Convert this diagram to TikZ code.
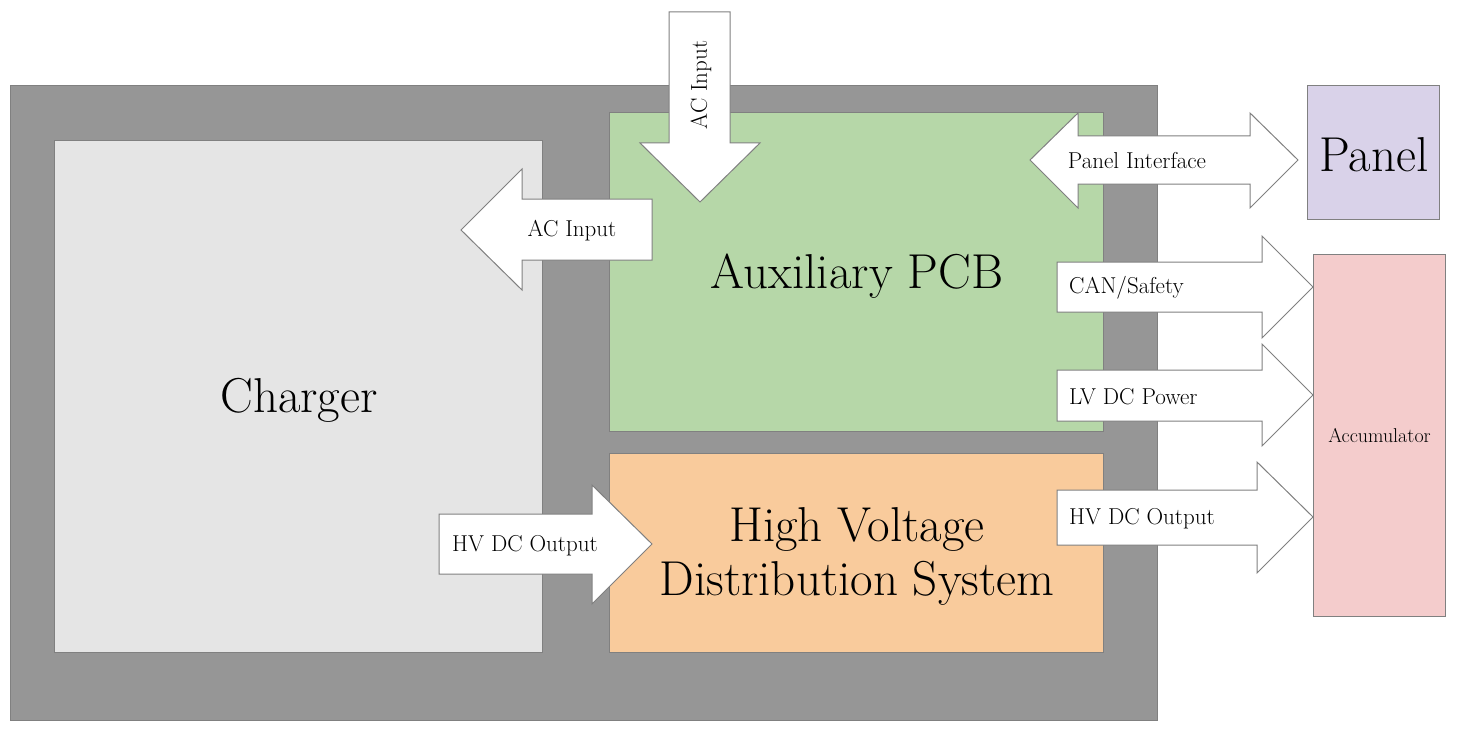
\documentclass[tikz,border=0pt]{standalone}
\definecolor{outergray}{HTML}{969696}
\definecolor{chargergray}{HTML}{E5E5E5}
\definecolor{auxgreen}{HTML}{B6D7A8}
\definecolor{hvorange}{HTML}{F9CB9C}
\definecolor{panelpurple}{HTML}{D9D2E9}
\definecolor{accpink}{HTML}{F4CCCC}
\definecolor{edgegray}{HTML}{808080}
\begin{document}
\begin{tikzpicture}[x=1pt,y=-1pt,
  box/.style={draw=edgegray, line width=1pt, inner sep=0pt, anchor=north west},
  arr/.style={draw=edgegray, fill=white, line width=1pt, line join=miter},
  small/.style={font=\fontsize{23}{27}\selectfont, inner sep=0pt},
  big/.style={font=\fontsize{49}{54}\selectfont, align=center, inner sep=0pt}]
\useasboundingbox (0,0) rectangle (1470,733);
% outer enclosure
\node[box, fill=outergray, minimum width=1147pt, minimum height=635pt] (enclosure) at (10,85) {};
% blocks
\node[box, fill=chargergray, minimum width=488pt, minimum height=512pt] (charger) at (54,140) {};
\node[big] (chargerlabel) at (299,400) {Charger};
\node[box, fill=auxgreen, minimum width=494pt, minimum height=319pt] (aux) at (609,112) {};
\node[big] (auxlabel) at (857,276) {Auxiliary PCB};
\node[box, fill=hvorange, minimum width=494pt, minimum height=199pt] (hvds) at (609,453) {};
\node[big] (hvdslabel) at (857,556) {High Voltage\\Distribution System};
\node[box, fill=panelpurple, minimum width=132pt, minimum height=134pt] (panel) at (1307,85) {};
\node[big] (panellabel) at (1374,155) {Panel};
\node[box, fill=accpink, minimum width=132pt, minimum height=362pt, font=\fontsize{20}{24}\selectfont] (acc) at (1313,254) {Accumulator};
% AC input (top, pointing down)
\draw[arr] (669,12) -- (730,12) -- (730,143) -- (760,143) -- (700,202) -- (640,143) -- (669,143) -- cycle;
\node[small, rotate=90] (acinA) at (701,85) {AC Input};
% AC input (to charger, pointing left)
\draw[arr] (652,199) -- (652,260) -- (522,260) -- (522,290) -- (461,230) -- (522,169) -- (522,199) -- cycle;
\node[small] (acinB) at (572,231) {AC Input};
% Panel interface (double)
\draw[arr] (1030,160) -- (1078,113) -- (1078,136) -- (1250,136) -- (1250,113) -- (1298,160) -- (1250,208) -- (1250,184) -- (1078,184) -- (1078,208) -- cycle;
\node[small] (panelif) at (1137,161) {Panel Interface};
% CAN/Safety
\draw[arr] (1057,262) -- (1262,262) -- (1262,236) -- (1313,287) -- (1262,338) -- (1262,312) -- (1057,312) -- cycle;
\node[small, anchor=west] (can) at (1069,288) {CAN/Safety};
% LV DC Power
\draw[arr] (1057,370) -- (1262,370) -- (1262,344) -- (1313,395) -- (1262,446) -- (1262,421) -- (1057,421) -- cycle;
\node[small, anchor=west] (lv) at (1069,397) {LV DC Power};
% HV DC Output right
\draw[arr] (1057,490) -- (1257,490) -- (1257,462) -- (1313,517) -- (1257,573) -- (1257,545) -- (1057,545) -- cycle;
\node[small, anchor=west] (hvout) at (1069,519) {HV DC Output};
% HV DC Output left (charger to HVDS)
\draw[arr] (439,514) -- (592,514) -- (592,485) -- (652,544) -- (592,604) -- (592,574) -- (439,574) -- cycle;
\node[small, anchor=west] (hvin) at (452,546) {HV DC Output};
\end{tikzpicture}
\end{document}
